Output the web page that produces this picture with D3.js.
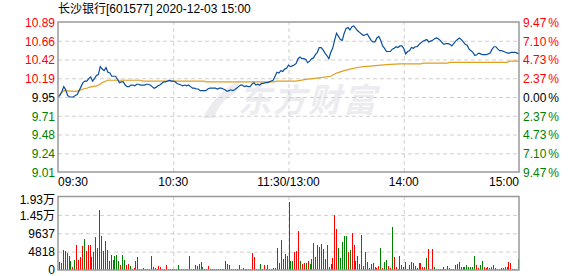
<!DOCTYPE html>
<html><head><meta charset="utf-8">
<script src="https://cdn.jsdelivr.net/npm/d3@7"></script>
<style>
html,body{margin:0;padding:0;background:#fff;}
svg{display:block;}
text{font-family:"Liberation Sans","Noto Sans CJK SC",sans-serif;}
</style></head>
<body><svg id="c" width="578" height="276"></svg>
<script>
const title = "长沙银行[601577] 2020-12-03 15:00";
const preClose = 9.95;
const priceTop = 10.89, priceBottom = 9.01;
const priceTickLabels = ["10.89","10.66","10.42","10.19","9.95","9.71","9.48","9.24","9.01"];
const pctTickLabels = ["9.47","7.10","4.73","2.37","0.00","2.37","4.73","7.10","9.47"];
const timeLabels = ["09:30","10:30","11:30/13:00","14:00","15:00"];
const timeTickIndex = [0,60,120,180,240];
const volMax = 19273;
const volTickLabels = ["1.93万","1.45万","9637","4818","0"];

// price per minute (241 points)
const price = [
9.95,9.97,10.02,10.08,10.04,9.97,9.95,9.95,9.95,9.97,
9.98,10.03,10.08,10.13,10.15,10.15,10.18,10.20,10.15,10.18,
10.22,10.23,10.33,10.30,10.28,10.32,10.26,10.25,10.21,10.21,
10.21,10.17,10.13,10.14,10.14,10.10,10.08,10.08,10.10,10.10,
10.09,10.11,10.11,10.10,10.10,10.10,10.11,10.11,10.10,10.08,
10.06,10.07,10.09,10.10,10.12,10.14,10.14,10.15,10.16,10.15,
10.15,10.14,10.12,10.11,10.10,10.09,10.10,10.09,10.10,10.08,
10.06,10.06,10.05,10.05,10.03,10.03,10.03,10.03,10.05,10.06,
10.06,10.06,10.06,10.05,10.06,10.06,10.05,10.04,10.02,10.03,
10.04,10.03,10.04,10.06,10.08,10.10,10.10,10.08,10.09,10.08,
10.08,10.11,10.13,10.10,10.11,10.10,10.12,10.12,10.13,10.13,
10.14,10.15,10.16,10.21,10.26,10.25,10.28,10.27,10.30,10.31,
10.35,10.33,10.34,10.35,10.37,10.43,10.45,10.43,10.43,10.42,
10.38,10.40,10.43,10.44,10.48,10.51,10.57,10.57,10.54,10.50,
10.47,10.43,10.51,10.56,10.66,10.75,10.71,10.67,10.66,10.75,
10.81,10.82,10.79,10.83,10.84,10.81,10.78,10.76,10.74,10.72,
10.73,10.74,10.70,10.66,10.64,10.64,10.69,10.71,10.66,10.59,
10.56,10.52,10.52,10.52,10.55,10.56,10.58,10.57,10.59,10.59,
10.56,10.49,10.52,10.53,10.57,10.56,10.58,10.58,10.61,10.63,
10.65,10.66,10.67,10.64,10.65,10.66,10.68,10.69,10.68,10.66,
10.63,10.61,10.62,10.62,10.61,10.59,10.62,10.65,10.67,10.69,
10.67,10.64,10.61,10.60,10.55,10.53,10.51,10.47,10.48,10.50,
10.49,10.48,10.48,10.48,10.49,10.50,10.55,10.58,10.58,10.55,
10.53,10.53,10.52,10.51,10.50,10.50,10.51,10.51,10.51,10.50,
10.49];

// average price line, read at its turning points
const avgMinute = [0,3,9,11,13,15,16,18,20,22,23,25,26,43,44,76,77,112,114,124,129,136,142,145,149,152,156,159,164,171,178,189,190,203,204,234,235,240];
const avgPrice  = [9.96,10.03,10.02,10.03,10.05,10.06,10.07,10.08,10.09,10.11,10.13,10.15,10.16,10.16,10.15,10.15,10.14,10.14,10.15,10.15,10.17,10.19,10.21,10.25,10.28,10.30,10.32,10.33,10.34,10.355,10.365,10.365,10.375,10.375,10.385,10.385,10.40,10.40];

// volume per minute (241 bars), dir 1 = up (red), 0 = down (green)
const volume = [
2088,1827,5133,4872,4437,3567,2262,783,2523,6438,
2523,3393,6177,8004,4959,6438,6438,3306,4698,8526,
5742,15834,8787,4959,7482,5133,2262,3828,2610,3567,
3828,2262,1218,3828,2523,1218,1479,957,174,435,
2262,3306,174,174,435,174,174,174,3567,696,
522,174,957,696,348,174,1218,174,174,174,
174,
174,1218,174,174,174,174,
174,
3567,174,174,1218,957,1653,2001,696,174,174,957,174,174,174,
174,
174,174,174,174,2262,1479,1218,174,174,174,
174,
1218,174,435,174,174,174,
174,
4350,3306,174,174,1479,174,1218,174,1218,174,174,435,435,5742,1740,7743,2784,4089,3567,
17748,2262,2262,4698,4872,10353,2262,1653,1914,1914,
2262,1479,2784,6960,3306,6438,6003,6699,5394,2784,
6438,783,1653,3132,14529,10875,5742,3132,7221,8787,
8787,4611,5133,9831,6438,2262,3567,1653,9048,957,
4611,2001,435,1479,1740,696,435,957,5655,435,
2001,2523,957,435,11397,3306,696,174,3567,1218,
696,2001,174,1218,2001,1740,957,435,1740,1740,
696,696,3045,5394,174,5394,696,174,174,
174,
174,696,174,957,435,174,
174,
1218,1479,2001,696,696,696,1218,696,696,696,3567,1218,435,1218,2262,696,435,696,435,696,1218,435,174,
174,
435,435,696,696,2001,1740,174,
174,
174,2784];
const volDir = [
1,1,1,0,0,0,0,1,0,1,
1,1,1,0,1,1,1,0,1,1,
1,1,0,0,1,0,1,0,1,0,
0,0,1,0,0,1,1,0,0,1,
0,0,1,0,1,1,0,0,0,1,
1,1,1,1,1,0,1,1,0,0,
1,
0,0,0,1,1,0,
0,
0,1,0,0,1,0,1,0,1,0,1,1,1,1,
1,
1,1,1,0,0,1,1,0,0,1,
0,
1,0,1,0,0,0,
1,
1,1,0,0,0,1,1,0,1,1,1,0,1,1,0,1,0,1,1,
1,0,0,1,1,1,0,1,1,0,
1,0,1,1,1,1,1,0,0,1,
0,1,0,1,1,1,0,0,0,0,
0,1,0,1,1,0,0,0,1,0,
1,1,0,0,0,1,1,1,0,1,
0,0,1,1,0,1,1,1,0,0,
0,1,1,0,0,1,0,1,1,1,
1,1,0,1,1,1,0,0,0,
0,
0,0,1,1,0,0,
1,
1,1,1,0,0,0,0,0,0,0,0,1,1,0,0,1,1,1,0,1,0,1,0,
1,
1,1,0,0,1,1,0,
1,
1,0];

const svg = d3.select("#c");
const L = 58, R = 519, T = 22, B = 172, VT = 196.5, VB = 270;
const x = d3.scaleLinear().domain([0,240]).range([L,R]);
const xb = d3.scaleBand().domain(d3.range(volume.length)).range([L,R]);
const y = d3.scaleLinear().domain([priceBottom,priceTop]).range([B,T]);
const yv = d3.scaleLinear().domain([0,volMax]).range([VB,VT]);

const RED = "#ff0000", GREEN = "#008000", DARK = "#000000";
const priceTickVals = priceTickLabels.map((_,i)=> priceTop - i*(priceTop-priceBottom)/(priceTickLabels.length-1));
const volTickVals = volTickLabels.map((_,i)=> volMax - i*volMax/(volTickLabels.length-1));

// title
svg.append("text").attr("x",58).attr("y",13).attr("font-size",12).attr("fill","#000").text(title);

// watermark (logo swoosh + name)
svg.append("path")
  .attr("d","M203,118 C212,100 224,88 240,80 L236,92 C226,98 218,106 214,118 Z")
  .attr("fill","#ececf0");
svg.append("text").attr("x",238).attr("y",112).attr("font-size",33).attr("font-weight","bold")
  .attr("font-style","italic").attr("letter-spacing",2).attr("fill","#ececf0")
  .attr("font-family","Noto Sans CJK SC").text("东方财富");

// grids
const gridStyle = g => g.selectAll("line").attr("stroke","#cfcfcf").attr("stroke-dasharray","4,3");
svg.append("g").attr("transform",`translate(${L},0)`)
  .call(d3.axisLeft(y).tickValues(priceTickVals.slice(1,-1)).tickSize(-(R-L)).tickFormat(""))
  .call(g=>g.select(".domain").remove()).call(gridStyle);
svg.append("g").attr("transform",`translate(${L},0)`)
  .call(d3.axisLeft(yv).tickValues(volTickVals.slice(1,-1)).tickSize(-(R-L)).tickFormat(""))
  .call(g=>g.select(".domain").remove()).call(gridStyle);
svg.append("g").attr("transform",`translate(0,${B})`)
  .call(d3.axisBottom(x).tickValues(timeTickIndex.slice(1,-1)).tickSize(-(B-T)).tickFormat(""))
  .call(g=>g.select(".domain").remove()).call(gridStyle);
svg.append("g").attr("transform",`translate(0,${VB})`)
  .call(d3.axisBottom(x).tickValues(timeTickIndex.slice(1,-1)).tickSize(-(VB-VT)).tickFormat(""))
  .call(g=>g.select(".domain").remove()).call(gridStyle);

// volume bars
svg.append("g").selectAll("rect").data(volume).join("rect")
  .attr("x",(d,i)=>Math.round(xb(i)+xb.bandwidth()/2))
  .attr("width",1)
  .attr("y",d=>yv(d))
  .attr("height",d=>VB-yv(d))
  .attr("fill",(d,i)=>volDir[i]?RED:GREEN)
  .attr("shape-rendering","crispEdges");

// avg line
svg.append("path").datum(avgMinute.map((m,i)=>[m,avgPrice[i]]))
  .attr("fill","none").attr("stroke","#dfa020").attr("stroke-width",1.2)
  .attr("d",d3.line().x(d=>x(d[0])).y(d=>y(d[1])));
// price line
svg.append("path").datum(price)
  .attr("fill","none").attr("stroke","#0a4f9e").attr("stroke-width",1.2)
  .attr("d",d3.line().x((d,i)=>x(i)).y(d=>y(d)));

// frames
svg.append("rect").attr("x",L).attr("y",T).attr("width",R-L).attr("height",B-T)
  .attr("fill","none").attr("stroke","#999").attr("stroke-width",1.5);
svg.append("rect").attr("x",L).attr("y",VT).attr("width",R-L).attr("height",VB-VT)
  .attr("fill","none").attr("stroke","#999").attr("stroke-width",1.5);

// left price axis
const colorFor = i => i<4?RED:(i===4?DARK:GREEN);
svg.append("g").attr("transform",`translate(${L-3},0)`)
  .call(d3.axisLeft(y).tickValues(priceTickVals).tickSize(0).tickPadding(0).tickFormat((d,i)=>priceTickLabels[i]))
  .call(g=>g.select(".domain").remove())
  .call(g=>g.selectAll("text").attr("font-size",12).attr("font-family","Liberation Sans")
     .attr("fill",(d,i)=>colorFor(i)).attr("dy","0.36em"));
// right pct axis
const ra = svg.append("g").attr("transform",`translate(${R+4},0)`)
  .call(d3.axisRight(y).tickValues(priceTickVals).tickSize(0).tickPadding(0).tickFormat((d,i)=>pctTickLabels[i]))
  .call(g=>g.select(".domain").remove());
ra.selectAll("text").attr("font-size",12).attr("font-family","Liberation Sans")
  .attr("fill",(d,i)=>colorFor(i)).attr("dy","0.36em")
  .append("tspan").attr("dx",2).text("%");
// time labels
svg.append("g").selectAll("text").data(timeLabels).join("text")
  .attr("x",(d,i)=>x(timeTickIndex[i])).attr("y",186)
  .attr("text-anchor",(d,i)=>i===0?"start":(i===timeLabels.length-1?"end":"middle"))
  .attr("font-size",12).attr("fill","#000").text(d=>d);
// volume axis
svg.append("g").attr("transform",`translate(${L-3},0)`)
  .call(d3.axisLeft(yv).tickValues(volTickVals).tickSize(0).tickPadding(0).tickFormat((d,i)=>volTickLabels[i]))
  .call(g=>g.select(".domain").remove())
  .call(g=>g.selectAll("text").attr("font-size",12).attr("fill","#000")
     .attr("dy",(d,i)=>i===0?"0.55em":(i===volTickLabels.length-1?"0.25em":"0.36em")));
</script></body></html>
